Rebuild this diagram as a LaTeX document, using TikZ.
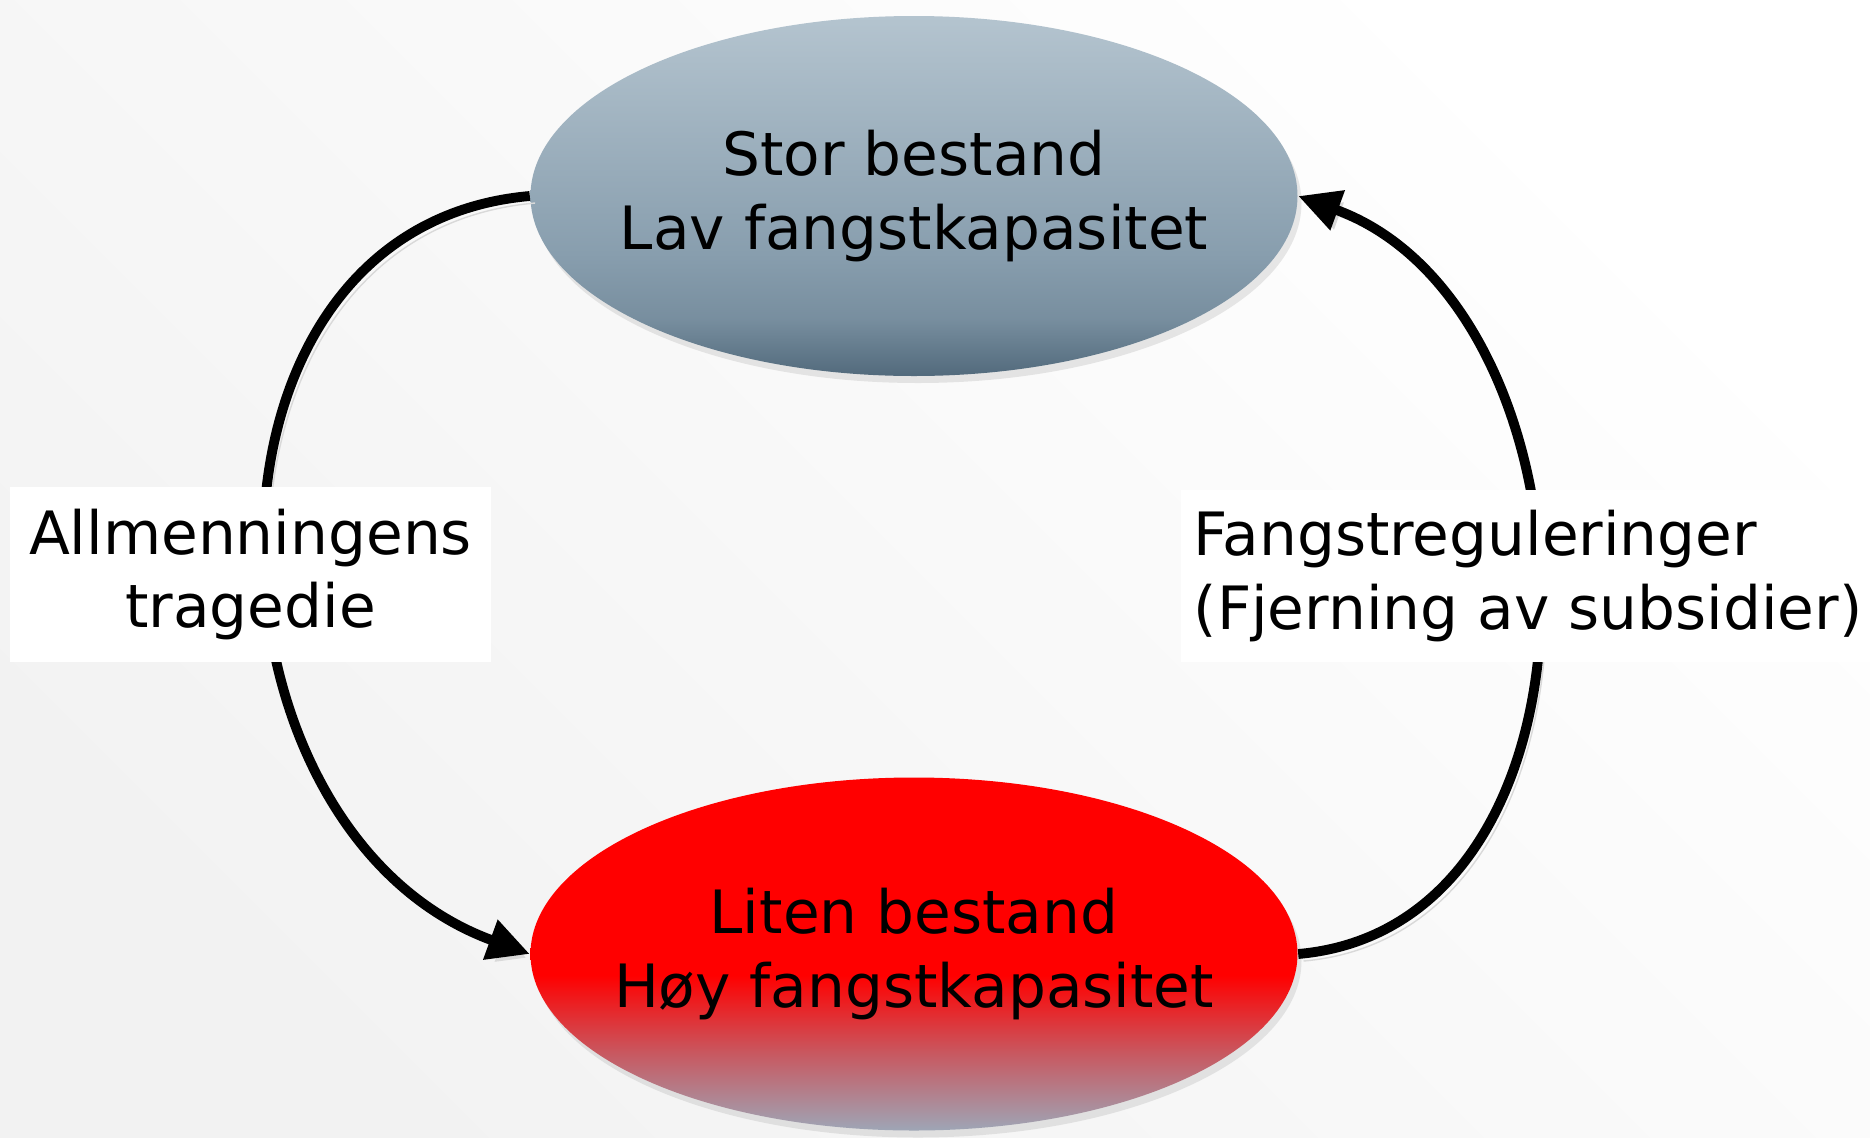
\documentclass[tikz,border=0pt]{standalone}
\usepackage{fontspec}
\setmainfont{DejaVu Sans}
\usetikzlibrary{arrows.meta,shapes.geometric,shadows}

\definecolor{blaatopp}{HTML}{B4C4CF}
\definecolor{blaamidt}{HTML}{889EAE}
\definecolor{blaabunn}{HTML}{526A7C}
\definecolor{roedmidt}{HTML}{C85860}
\definecolor{roedbunn}{HTML}{9EA6B6}

% fargeforloep for ellipsene (25bp = bunn, 75bp = topp)
\pgfdeclareverticalshading{storfyll}{100bp}{color(0bp)=(blaabunn); color(25bp)=(blaabunn); color(33bp)=(blaamidt!70!blaabunn); color(42bp)=(blaamidt); color(75bp)=(blaatopp); color(100bp)=(blaatopp)}
\pgfdeclareverticalshading{litenfyll}{100bp}{color(0bp)=(roedbunn); color(25bp)=(roedbunn); color(36bp)=(roedmidt); color(47bp)=(red); color(75bp)=(red); color(100bp)=(red)}

\begin{document}
\begin{tikzpicture}[
    bestand/.style={ellipse, shade, minimum width=7.67cm, minimum height=3.6cm, inner sep=0pt,
        drop shadow={opacity=0.18, shadow xshift=0.04cm, shadow yshift=-0.07cm}},
    tekst/.style={align=center, font=\fontsize{17}{21}\selectfont},
    pil/.style={line width=2.8pt, -{Triangle[length=0.42cm, width=0.4cm]},
        preaction={draw=black!15, transform canvas={xshift=1.5pt, yshift=-2pt}}},
    etikett/.style={fill=white, inner sep=0pt, font=\fontsize{17}{21}\selectfont}
]
    % Bakgrunn
    \shade[top color=white, bottom color=black!5, shading angle=-45] (0,0) rectangle (18.7,-11.37);
    \useasboundingbox (0,0) rectangle (18.7,-11.37);

    % Tilstander
    \node[bestand, shading=storfyll,
        label={[tekst]center:Stor bestand\\Lav fangstkapasitet}] (stor) at (9.14,-1.96) {};
    \node[bestand, shading=litenfyll, minimum height=3.53cm,
        label={[tekst]center:Liten bestand\\Høy fangstkapasitet}] (liten) at (9.14,-9.54) {};

    % Overganger
    \draw[pil] (stor.west) to[out=185, in=160, looseness=1.22] (liten.west);
    \draw[pil] (liten.east) to[out=5, in=-20, looseness=1.11] (stor.east);

    % Etiketter
    \node[etikett, minimum width=4.81cm, minimum height=1.75cm, align=center] (tragedie) at (2.505,-5.745) {Allmenningens\\tragedie};
    \node[etikett, anchor=west, inner xsep=0.13cm, minimum height=1.72cm, align=left] (regulering) at (11.80,-5.76) {Fangstreguleringer\\(Fjerning av subsidier)};
\end{tikzpicture}
\end{document}
